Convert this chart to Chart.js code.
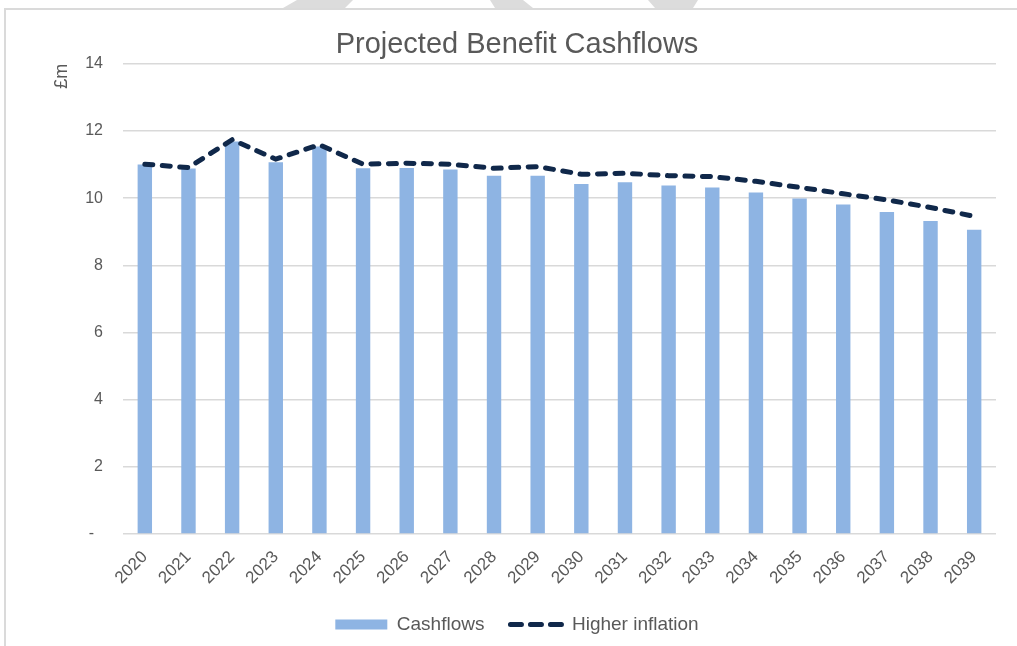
<!DOCTYPE html>
<html>
<head>
<meta charset="utf-8">
<script src="https://cdn.jsdelivr.net/npm/chart.js@4.4.1/dist/chart.umd.min.js"></script>
<style>
  html, body { margin: 0; padding: 0; background: #fff; }
  #wrap { position: relative; width: 1017px; height: 646px; overflow: hidden; }
  #frame { position: absolute; left: 4px; top: 8px; width: 1100px; height: 700px;
           border-left: 2px solid #dadada; border-top: 2px solid #dadada; }
  #wm { position: absolute; left: 0; top: 0; }
  canvas { position: absolute; left: 0; top: 0; }
</style>
</head>
<body>
<div id="wrap">
  <svg id="wm" width="1017" height="12">
    <polygon points="297,0 353,0 345,8 283,8" fill="#dcdcdc"/>
    <polygon points="490,0 523,0 533,8 495,8" fill="#dcdcdc"/>
    <polygon points="648,0 698,0 693,8 655,8" fill="#dcdcdc"/>
  </svg>
  <div id="frame"></div>
  <canvas id="c" width="1017" height="646"></canvas>
</div>
<script>
const years = ['2020','2021','2022','2023','2024','2025','2026','2027','2028','2029',
               '2030','2031','2032','2033','2034','2035','2036','2037','2038','2039'];
const cashflows = [11.0, 10.88, 11.69, 11.07, 11.54, 10.89, 10.9, 10.85, 10.67, 10.67,
                   10.42, 10.47, 10.38, 10.32, 10.17, 9.99, 9.81, 9.59, 9.32, 9.06];
const higherInflation = [11.01, 10.91, 11.74, 11.16, 11.59, 11.01, 11.04, 11.01, 10.89, 10.94,
                         10.71, 10.74, 10.67, 10.64, 10.50, 10.32, 10.13, 9.95, 9.72, 9.46];
const yTicks = [0, 2, 4, 6, 8, 10, 12, 14];

const FONT = "'Liberation Sans', Arial, sans-serif";
const TXT = '#595959';
const LINE_DASH = [8, 9.5];
const LEGEND_DASH = [11, 9];

new Chart(document.getElementById('c'), {
  data: {
    labels: years,
    datasets: [
      {
        type: 'bar',
        label: 'Cashflows',
        data: cashflows,
        backgroundColor: '#8eb4e3',
        borderWidth: 0,
        barPercentage: 0.33,
        categoryPercentage: 1.0,
        pointStyle: 'rect',
        order: 1
      },
      {
        type: 'line',
        label: 'Higher inflation',
        data: higherInflation,
        borderColor: '#10284a',
        backgroundColor: '#10284a',
        borderWidth: 5,
        borderDash: LINE_DASH,
        borderCapStyle: 'round',
        pointRadius: 0,
        pointStyle: 'line',
        tension: 0,
        fill: false,
        order: 0
      }
    ]
  },
  options: {
    responsive: false,
    animation: false,
    devicePixelRatio: 1,
    layout: { padding: { left: 38, right: 21, top: 0, bottom: 2 } },
    plugins: {
      tooltip: { enabled: false },
      title: {
        display: true,
        text: 'Projected Benefit Cashflows',
        color: TXT,
        font: { family: FONT, size: 29, weight: 'normal' },
        padding: { top: 28, bottom: 1 }
      },
      legend: {
        position: 'bottom',
        labels: {
          usePointStyle: true,
          pointStyleWidth: 52,
          boxHeight: 10,
          padding: 26,
          color: TXT,
          font: { family: FONT, size: 19 },
          sort: (a, b) => a.datasetIndex - b.datasetIndex,
          generateLabels: (chart) => {
            const items = Chart.defaults.plugins.legend.labels.generateLabels(chart);
            items.forEach(it => {
              const ds = chart.data.datasets[it.datasetIndex];
              if (ds.type === 'line') {
                it.lineDash = LEGEND_DASH;
                it.lineWidth = ds.borderWidth;
                it.lineCap = 'round';
                it.strokeStyle = ds.borderColor;
              }
            });
            return items;
          }
        }
      }
    },
    scales: {
      x: {
        grid: { display: false },
        border: { display: false },
        ticks: {
          color: TXT,
          font: { family: FONT, size: 17 },
          maxRotation: 45,
          minRotation: 45,
          padding: 5,
          autoSkip: false
        },
        afterFit: (s) => { s.height = 55; }
      },
      y: {
        min: 0,
        max: 14,
        afterBuildTicks: (s) => { s.ticks = yTicks.map(v => ({ value: v })); },
        grid: { color: '#d9d9d9', lineWidth: 1.5, drawTicks: false },
        border: { display: false },
        ticks: {
          color: TXT,
          font: { family: FONT, size: 16 },
          padding: 20,
          callback: (v) => v === 0 ? '-  ' : String(v)
        },
        title: {
          display: true,
          text: '£m',
          align: 'end',
          color: TXT,
          font: { family: FONT, size: 18 },
          padding: { top: 13, bottom: 0 }
        },
        afterFit: (s) => { s.width = 85; }
      }
    }
  }
});
</script>
</body>
</html>
